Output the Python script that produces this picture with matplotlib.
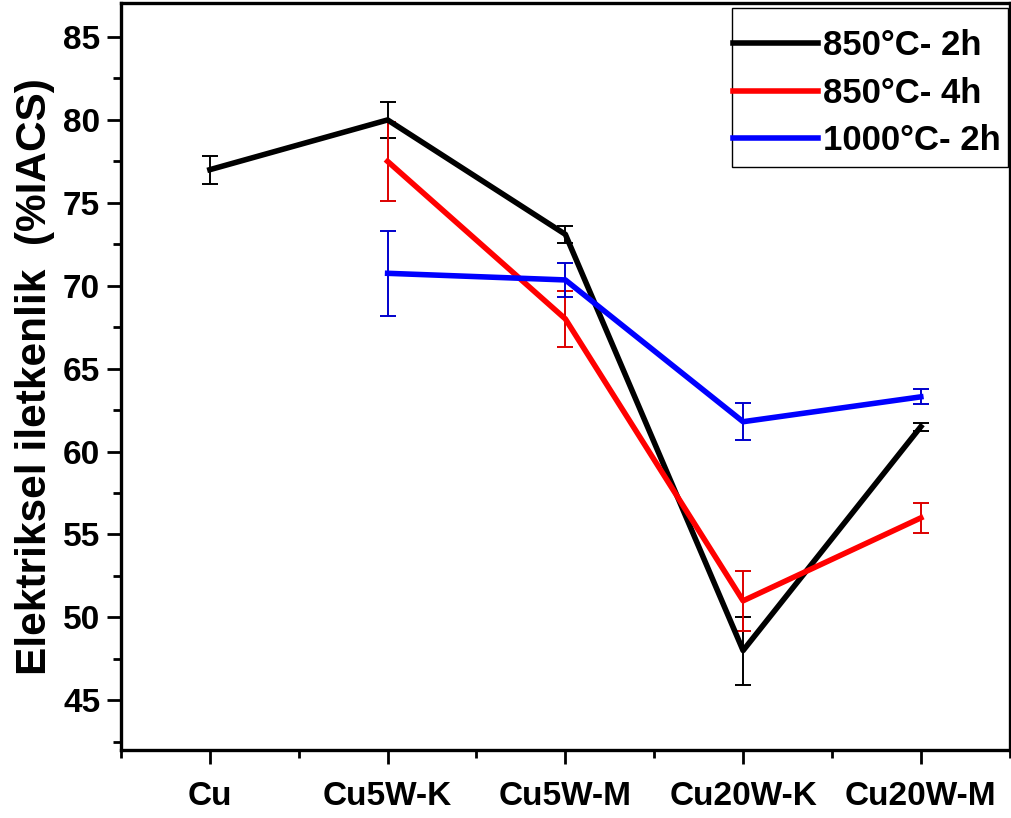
import matplotlib
matplotlib.use("Agg")
import matplotlib.pyplot as plt
import numpy as np
from matplotlib.ticker import MultipleLocator
from matplotlib.patches import Rectangle

plt.rcParams['font.family'] = ['Liberation Sans', 'DejaVu Sans']
plt.rcParams['font.weight'] = 'bold'

categories = ["Cu", "Cu5W-K", "Cu5W-M", "Cu20W-K", "Cu20W-M"]
labels = ["850°C- 2h", "850°C- 4h", "1000°C- 2h"]

s850_2h = [77.0, 80.0, 73.1, 48.0, 61.5]
s850_2h_err = [0.85, 1.1, 0.5, 2.05, 0.25]
s850_4h = [np.nan, 77.5, 68.0, 51.0, 56.0]
s850_4h_err = [np.nan, 2.4, 1.7, 1.8, 0.9]
s1000_2h = [np.nan, 70.75, 70.35, 61.8, 63.3]
s1000_2h_err = [np.nan, 2.55, 1.0, 1.1, 0.45]

series = [s850_2h, s850_4h, s1000_2h]
errors = [s850_2h_err, s850_4h_err, s1000_2h_err]
colors = ["#000000", "#ff0000", "#0000ff"]
err_colors = ["#000000", "#dd0000", "#0000cc"]

fig = plt.figure(figsize=(10.11, 8.18), dpi=100)
ax = fig.add_axes([0.1197, 0.0831, 0.879, 0.9132])

x = np.arange(len(categories))
for ys, es, c, ec, lab in zip(series, errors, colors, err_colors, labels):
    ys = np.array(ys, dtype=float)
    es = np.array(es, dtype=float)
    m = ~np.isnan(ys)
    ax.errorbar(x[m], ys[m], yerr=es[m], fmt='none', ecolor=ec, elinewidth=1.4,
                capsize=5.5, capthick=1.4, zorder=2)
    ax.plot(x[m], ys[m], color=c, lw=4, label=lab, zorder=3)

ax.set_xlim(-0.5, 4.5)
ax.set_ylim(42, 87.05)
ax.set_xticks(x)
ax.set_xticklabels(categories)
ax.xaxis.set_minor_locator(MultipleLocator(0.5))
ax.yaxis.set_major_locator(MultipleLocator(5))
ax.yaxis.set_minor_locator(MultipleLocator(2.5))

for sp in ax.spines.values():
    sp.set_linewidth(2.4)
ax.tick_params(axis='both', which='major', direction='out', length=10, width=2,
               labelsize=24, pad=5)
ax.tick_params(axis='both', which='minor', direction='out', length=5.5, width=2)
ax.tick_params(axis='x', which='major', pad=12)
for t in ax.get_xticklabels() + ax.get_yticklabels():
    t.set_fontweight('bold')

ax.set_ylabel("Elektriksel iletkenlik  (%IACS)", fontsize=30.5, fontweight='bold')
ax.yaxis.set_label_coords(-0.0745, 0.5)

# legend (frame drawn separately)
leg = ax.legend(loc='center', bbox_to_anchor=(0.8397, 0.879), fontsize=25,
                frameon=False, handlelength=2.45, handletextpad=0.15,
                labelspacing=0.42, borderpad=0.1)
for t in leg.get_texts():
    t.set_fontweight('bold')
for l in leg.get_lines():
    l.set_linewidth(4)
ax.add_patch(Rectangle((0.687, 0.780), 0.998 - 0.687, 0.993 - 0.780,
                       transform=ax.transAxes, fill=False, edgecolor='black',
                       lw=1.0, zorder=5, clip_on=False))

fig.savefig("out.png", dpi=100)
